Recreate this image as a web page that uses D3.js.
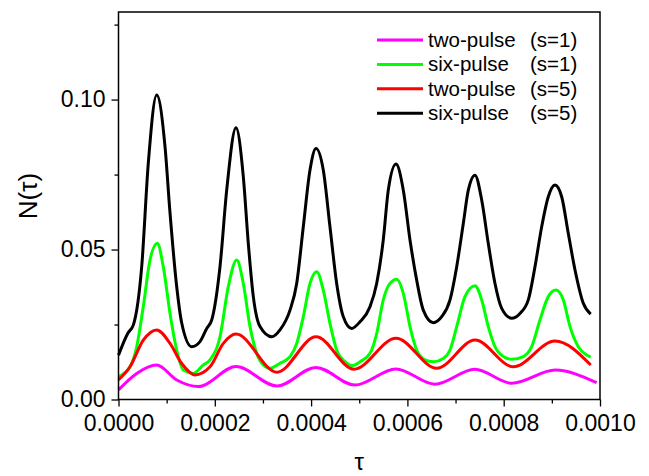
<!DOCTYPE html>
<html>
<head>
<meta charset="utf-8">
<script src="https://cdn.jsdelivr.net/npm/d3@7"></script>
<style>
  body { margin: 0; background: #fff; }
  svg text { font-family: "Liberation Sans", Arial, sans-serif; fill: #000; }
</style>
</head>
<body>
<script>
// N(tau) curves, values
var twoPulseS1Tau = [0, 0.0000378, 0.0000793, 0.0001209, 0.000166, 0.000244, 0.000329, 0.00041, 0.000491, 0.000576, 0.000657, 0.00074, 0.000817, 0.000907, 0.000993];
var twoPulseS1N = [0.0032, 0.0087, 0.0115, 0.0065, 0.0043, 0.0110, 0.0045, 0.0107, 0.0048, 0.0102, 0.0051, 0.0101, 0.0054, 0.0098, 0.0056];

var sixPulseS1Tau = [0, 0.0000239, 0.0000378, 0.0000515, 0.0000654, 0.0000806, 0.000093, 0.000107, 0.0001209, 0.0001346, 0.0001553, 0.0001761, 0.00019, 0.0002108, 0.000228, 0.0002455,
    0.0002592, 0.0002731, 0.000287, 0.0003007, 0.0003146, 0.0003354, 0.0003562, 0.0003701, 0.0003838, 0.0003977, 0.0004116, 0.0004253, 0.0004392, 0.0004531, 0.0004704, 0.0004849,
    0.0005015, 0.0005223, 0.0005362, 0.0005499, 0.0005638, 0.0005778, 0.0005915, 0.0006054, 0.0006193, 0.0006365, 0.0006538, 0.0006746, 0.0006885, 0.0007024, 0.0007196, 0.0007404,
    0.0007543, 0.000768, 0.0007819, 0.0007992, 0.0008166, 0.0008407, 0.0008581, 0.0008753, 0.0008926, 0.0009086, 0.0009238, 0.0009377, 0.0009549, 0.0009724, 0.0009807];
var sixPulseS1N = [0.0076, 0.0109, 0.0176, 0.031, 0.0465, 0.0521, 0.0443, 0.0287, 0.0165, 0.0098, 0.0087, 0.0115, 0.0132, 0.0209, 0.0376, 0.0465,
    0.0387, 0.0243, 0.0154, 0.0115, 0.0104, 0.0121, 0.0143, 0.0187, 0.0276, 0.0387, 0.0426, 0.0365, 0.0254, 0.0165, 0.0126, 0.0113,
    0.0126, 0.0154, 0.022, 0.0332, 0.0387, 0.0401, 0.0354, 0.0243, 0.0165, 0.0132, 0.0126, 0.0137, 0.0165, 0.0243, 0.0343, 0.0379,
    0.0332, 0.0243, 0.0176, 0.0143, 0.0134, 0.0143, 0.0176, 0.0265, 0.0343, 0.0365, 0.0332, 0.0243, 0.0176, 0.0148, 0.0141];

var twoPulseS5Tau = [0, 0.0000239, 0.0000515, 0.0000793, 0.000107, 0.0001313, 0.000159, 0.00019, 0.0002177, 0.000244, 0.000329, 0.0004102, 0.000489, 0.0005763, 0.000661, 0.0007404, 0.00082, 0.0009065, 0.0009807];
var twoPulseS5N = [0.0065, 0.0109, 0.0198, 0.0232, 0.0187, 0.012, 0.0082, 0.0109, 0.0187, 0.0218, 0.0091, 0.0209, 0.0101, 0.0204, 0.0104, 0.0198, 0.0109, 0.0195, 0.0115];

var sixPulseS5Tau = [0, 0.0000197, 0.0000307, 0.0000482, 0.0000619, 0.0000793, 0.0000966, 0.000107, 0.0001209, 0.0001313, 0.000152, 0.0001693, 0.0001832, 0.0001936, 0.0002108, 0.0002247, 0.000244,
    0.0002592, 0.0002696, 0.00028, 0.0002939, 0.0003182, 0.0003354, 0.0003562, 0.0003701, 0.0003838, 0.0003977, 0.0004102, 0.0004253, 0.0004392, 0.0004531, 0.0004669, 0.0004843,
    0.0005015, 0.0005223, 0.0005362, 0.0005499, 0.0005603, 0.0005763, 0.0005915, 0.0006054, 0.0006193, 0.000633, 0.0006538, 0.0006712, 0.0006885, 0.0007024, 0.0007161, 0.0007265, 0.0007404,
    0.0007543, 0.000768, 0.0007819, 0.0007958, 0.0008166, 0.0008338, 0.0008511, 0.000865, 0.0008789, 0.0008926, 0.0009065, 0.0009204, 0.0009341, 0.0009481, 0.0009653, 0.0009807];
var sixPulseS5N = [0.0148, 0.0222, 0.0248, 0.0443, 0.0788, 0.1015, 0.0843, 0.0622, 0.0376, 0.0255, 0.0176, 0.0193, 0.0237, 0.0265, 0.0443, 0.0698, 0.0906,
    0.0743, 0.052, 0.0343, 0.0243, 0.0209, 0.0232, 0.0298, 0.0387, 0.0576, 0.0765, 0.0837, 0.0765, 0.0576, 0.0387, 0.0276, 0.0237,
    0.0259, 0.0309, 0.0387, 0.0532, 0.0698, 0.0785, 0.0698, 0.0532, 0.0398, 0.0298, 0.0256, 0.0276, 0.0332, 0.0443, 0.0587, 0.0698, 0.0748,
    0.0665, 0.052, 0.0387, 0.0304, 0.0271, 0.0287, 0.0332, 0.0443, 0.0576, 0.0676, 0.0715, 0.0676, 0.0554, 0.0432, 0.0321, 0.0285];

var seriesNames = ["two-pulse", "six-pulse", "two-pulse", "six-pulse"];
var seriesS = ["(s=1)", "(s=1)", "(s=5)", "(s=5)"];
var seriesColors = ["#ff00ff", "#00ff00", "#ff0000", "#000000"];

var xMajorTicks = [0, 0.0002, 0.0004, 0.0006, 0.0008, 0.001];
var xMinorTicks = [0.0001, 0.0003, 0.0005, 0.0007, 0.0009];
var yMajorTicks = [0, 0.05, 0.10];
var yMinorTicks = [0.025, 0.075, 0.125];

var w = 649;
var h = 476;
var plotL = 118.5, plotR = 600, plotT = 12, plotB = 399.5;

var svg = d3.select("body").append("svg").attr("width", w).attr("height", h);

var x = d3.scaleLinear().domain([0, 0.001]).range([plotL, plotR]);
var y = d3.scaleLinear().domain([0, 0.1292]).range([plotB, plotT]);

function pairs(t, n) {
    return t.map(function(d, i) { return [d, n[i]]; });
}
var series = [
    pairs(twoPulseS1Tau, twoPulseS1N),
    pairs(sixPulseS1Tau, sixPulseS1N),
    pairs(twoPulseS5Tau, twoPulseS5N),
    pairs(sixPulseS5Tau, sixPulseS5N)
];

var line = d3.line()
    .x(function(d) { return x(d[0]); })
    .y(function(d) { return y(d[1]); })
    .curve(d3.curveMonotoneX);

svg.selectAll("path.curve")
    .data(series)
    .enter()
    .append("path")
    .attr("class", "curve")
    .attr("d", line)
    .attr("fill", "none")
    .attr("stroke", function(d, i) { return seriesColors[i]; })
    .attr("stroke-width", 3)
    .attr("stroke-linejoin", "round");

// axes
svg.append("g").attr("transform", "translate(0," + plotB + ")")
    .call(d3.axisBottom(x).tickValues(xMajorTicks).tickSize(7).tickPadding(8).tickFormat(d3.format(".4f")));
svg.append("g").attr("transform", "translate(0," + plotB + ")")
    .call(d3.axisBottom(x).tickValues(xMinorTicks).tickSize(4).tickFormat(""));
svg.append("g").attr("transform", "translate(" + plotL + ",0)")
    .call(d3.axisLeft(y).tickValues(yMajorTicks).tickSize(7).tickPadding(6).tickFormat(d3.format(".2f")));
svg.append("g").attr("transform", "translate(" + plotL + ",0)")
    .call(d3.axisLeft(y).tickValues(yMinorTicks).tickSize(4).tickFormat(""));

svg.selectAll(".domain").remove();
svg.selectAll(".tick line").attr("stroke", "#000").attr("stroke-width", 1.3);
svg.selectAll(".tick text").style("font-size", "23px").attr("fill", "#000");

// frame
svg.append("rect")
    .attr("x", plotL).attr("y", plotT)
    .attr("width", plotR - plotL).attr("height", plotB - plotT)
    .attr("fill", "none").attr("stroke", "#000").attr("stroke-width", 1.5);

// axis titles
svg.append("text")
    .attr("x", (plotL + plotR) / 2).attr("y", 470)
    .attr("text-anchor", "middle")
    .style("font-size", "24px")
    .text("τ");
svg.append("text")
    .attr("transform", "translate(37,196) rotate(-90)")
    .attr("text-anchor", "middle")
    .style("font-size", "26px")
    .text("N(τ)");

// legend
var legend = svg.selectAll("g.legend")
    .data(seriesNames)
    .enter()
    .append("g")
    .attr("class", "legend")
    .attr("transform", function(d, i) { return "translate(0," + (40 + i * 24.4) + ")"; });
legend.append("line")
    .attr("x1", 377).attr("x2", 423).attr("y1", 0).attr("y2", 0)
    .attr("stroke", function(d, i) { return seriesColors[i]; })
    .attr("stroke-width", 3);
legend.append("text")
    .attr("x", 428).attr("y", 7)
    .style("font-size", "20.5px")
    .text(function(d) { return d; });
legend.append("text")
    .attr("x", 530).attr("y", 7)
    .style("font-size", "20.5px")
    .text(function(d, i) { return seriesS[i]; });
</script>
</body>
</html>
